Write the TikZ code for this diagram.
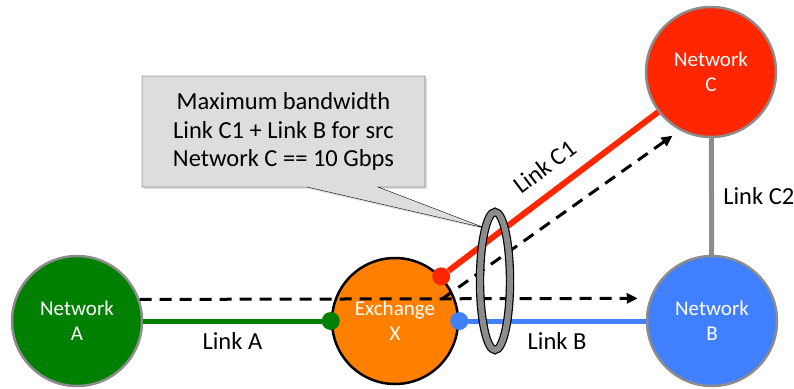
\documentclass[tikz,border=0pt]{standalone}
\usepackage{fontspec}
\setmainfont{Carlito}
\usepackage{tikz}
\usetikzlibrary{arrows.meta,shapes.geometric,shadows}

\definecolor{netgreen}{RGB}{0,128,0}
\definecolor{netorange}{RGB}{255,128,0}
\definecolor{netred}{RGB}{255,38,0}
\definecolor{netblue}{RGB}{64,128,255}
\definecolor{rimgray}{RGB}{140,140,140}
\definecolor{boxgray}{RGB}{221,221,221}

\begin{document}
\begin{tikzpicture}[x=1pt,y=-1pt,
    nnode/.style={draw=rimgray,line width=2.5pt,circle,minimum size=130pt,inner sep=0pt,text=white,align=center,font=\fontsize{21}{25}\selectfont},
    dnode/.style={circle,minimum size=18pt,inner sep=0pt},
    lbl/.style={text=black,font=\fontsize{24.5}{28.5}\selectfont},
    dlink/.style={line width=3pt,dash pattern=on 12pt off 8pt,-{Triangle[length=11pt,width=10pt]}}]
    \useasboundingbox (0,0) rectangle (794,388);

    % callout
    \coordinate (tip) at (485,228);
    \draw[fill=boxgray,drop shadow={shadow xshift=2pt,shadow yshift=-2pt,opacity=0.25}] (142,76) -- (425,76) -- (425,187) -- (378,187) -- (tip) -- (307,187) -- (142,187) -- cycle;
    \node[lbl,align=center] (note) at (283.5,131.5) {Maximum bandwidth\\Link C1 + Link B for src\\Network C == 10 Gbps};

    \node[nnode,fill=netgreen] (a) at (77,321) {Network\\A};
    \node[nnode,fill=netblue] (b) at (712,321) {Network\\B};
    \node[nnode,fill=netred] (c) at (711,72) {Network\\C};
    \node[nnode,draw=black,fill=netorange,minimum size=126pt] (x) at (395,321) {Exchange\\X};

    \node[dnode,fill=netgreen] (xa) at (x.west) {};
    \node[dnode,fill=netblue] (xb) at (x.east) {};
    \node[dnode,fill=netred] (xc) at (x.44) {};

    \draw[netgreen,line width=5pt] (a) -- node[lbl,below=6pt] {Link A} (xa);
    \draw[netblue,line width=5pt] (xb) -- node[lbl,below=6pt] {Link B} (b);
    \draw[rimgray,line width=5pt] (c) -- node[lbl,right=6pt] {Link C2} (b);
    \draw[netred,line width=6pt] (xc) -- node[lbl,sloped,above=10pt,pos=0.53] {Link C1} (c);

    % traffic
    \coordinate (split) at (442,299);
    \draw[dlink,shorten >=12pt] (a.19.5) -- (b.160.5);
    \draw[dlink,shorten >=9pt] (split) -- (c.242);

    \node[draw=black,double=rimgray,double distance=6pt,line width=1.2pt,ellipse,minimum width=30pt,minimum height=138pt,inner sep=0pt] (ring) at (495,281) {};
\end{tikzpicture}
\end{document}
